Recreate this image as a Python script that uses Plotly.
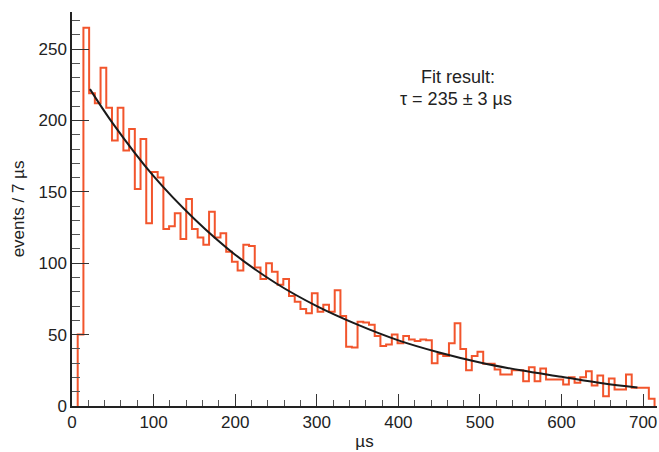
import plotly.graph_objects as go

# ---- data ----
bin_width = 7  # µs
counts = [
    0, 50, 265, 219, 212, 237, 209, 186, 209, 179,
    194, 152, 187, 128, 164, 160, 124, 126, 135, 117,
    145, 124, 118, 113, 136, 118, 121, 108, 101, 95,
    113, 112, 97, 89, 100, 94, 85, 89, 77, 73,
    68, 65, 79, 66, 71, 66, 81, 63, 41.5, 41,
    59, 58.5, 57, 49, 42, 43, 50, 44, 49, 46.6,
    45.6, 46.5, 46, 30, 36.5, 35, 44, 58, 40, 25,
    35, 38, 29.6, 29.6, 25.6, 22.1, 22.1, 25.1, 25.1, 17.4,
    27.2, 17.4, 26.3, 18.6, 18.6, 18.6, 15.1, 20.2, 16.2, 20.2,
    24.4, 14.4, 21.4, 6.9, 19.3, 11.6, 11.6, 22.1, 12.7, 12.7,
    12.7, 5,
]
fit_t = [22, 50, 100, 150, 200, 250, 300, 350, 400, 450, 500, 550, 600, 650, 693]
fit_n = [222, 198, 161, 131, 106, 86, 70, 57, 46, 37.5, 30.5, 25, 20.5, 16, 13]
fit_text = ["Fit result:", "τ = 235 ± 3 µs"]
x_title = "µs"
y_title = "events / 7 µs"

# ---- build step outline ----
edges = [i * bin_width for i in range(len(counts) + 1)]
xs = [edges[1]] + edges[1:len(counts)] + [edges[len(counts)]]
ys = [0] + counts[1:] + [0]

fig = go.Figure()
fig.add_trace(go.Scatter(
    x=xs, y=ys, mode="lines", line=dict(shape="hv", color="#F2552C", width=2),
    hoverinfo="skip", showlegend=False))
fig.add_trace(go.Scatter(
    x=fit_t, y=fit_n, mode="lines", line=dict(shape="spline", color="#1a1a1a", width=2),
    hoverinfo="skip", showlegend=False))

font = dict(family="Liberation Sans, Arial, sans-serif", size=17, color="#222222")
ann_font = dict(family="Liberation Sans, Arial, sans-serif", size=18, color="#222222")

fig.update_layout(
    width=659, height=452,
    margin=dict(l=72, r=2, t=12, b=46),
    paper_bgcolor="white", plot_bgcolor="white",
    font=font,
    showlegend=False,
)
fig.update_xaxes(
    range=[0, 717], showgrid=False, zeroline=False,
    showline=True, linecolor="#222222", linewidth=1.5,
    ticks="inside", ticklen=12, tickwidth=1.3, tickcolor="#333333",
    dtick=100, tick0=0,
    minor=dict(ticks="inside", ticklen=6, dtick=20, tick0=0, tickcolor="#555555", tickwidth=1.2),
    title=dict(text=x_title, standoff=4, font=font),
    tickfont=font,
)
fig.update_yaxes(
    range=[0, 276], showgrid=False, zeroline=False,
    showline=True, linecolor="#222222", linewidth=1.5,
    ticks="inside", ticklen=17, tickwidth=1.3, tickcolor="#333333",
    dtick=50, tick0=0,
    minor=dict(ticks="inside", ticklen=8, dtick=10, tick0=0, tickcolor="#555555", tickwidth=1.2),
    title=dict(text=y_title, standoff=10, font=font),
    tickfont=font,
)
fig.add_annotation(x=0.659, y=0.835, xref="paper", yref="paper", text=fit_text[0],
                   showarrow=False, font=ann_font, xanchor="center", yanchor="middle")
fig.add_annotation(x=0.656, y=0.778, xref="paper", yref="paper", text=fit_text[1],
                   showarrow=False, font=ann_font, xanchor="center", yanchor="middle")

fig.write_html("out.html")
